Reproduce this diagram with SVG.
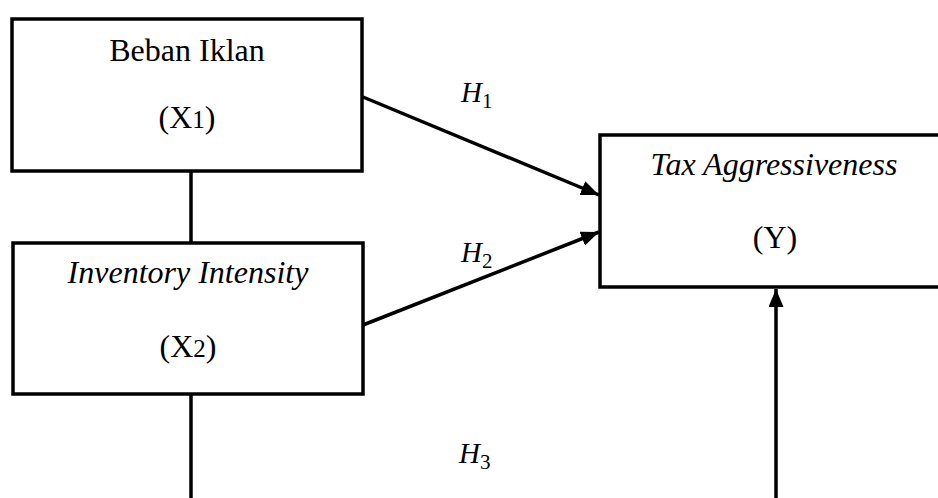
<svg xmlns="http://www.w3.org/2000/svg" width="938" height="498" viewBox="0 0 938 498">
<style>
.box{fill:#fff;stroke:#000;stroke-width:3.5;stroke-linejoin:miter}
.ln{stroke:#000;stroke-width:3.5;fill:none}
.t{font-family:"Liberation Serif","Times New Roman",serif;font-size:32px;fill:#000;text-anchor:middle}
.i{font-style:italic}
.h{font-family:"Liberation Serif","Times New Roman",serif;font-size:29px;fill:#000}
</style>
<defs>
<marker id="ah" markerWidth="18" markerHeight="15" refX="18" refY="7.5" orient="auto" markerUnits="userSpaceOnUse">
<path d="M0,0 L18,7.5 L0,15 Z" fill="#000"/>
</marker>
</defs>
<g id="connectors">
<line class="ln" x1="191" y1="171" x2="191" y2="243"/>
<line class="ln" x1="191" y1="394" x2="191" y2="498"/>
<line class="ln" x1="363" y1="97" x2="599" y2="195" marker-end="url(#ah)"/>
<line class="ln" x1="363" y1="325" x2="599" y2="232" marker-end="url(#ah)"/>
<line class="ln" x1="776" y1="498" x2="776" y2="289" marker-end="url(#ah)"/>
<text class="h" x="461" y="102"><tspan font-style="italic">H</tspan><tspan font-size="21" dy="6">1</tspan></text>
<text class="h" x="461" y="262"><tspan font-style="italic">H</tspan><tspan font-size="21" dy="6">2</tspan></text>
<text class="h" x="459" y="463"><tspan font-style="italic">H</tspan><tspan font-size="21" dy="6">3</tspan></text>
</g>
<g id="x1">
<rect class="box" x="12" y="19" width="350" height="152"/>
<text class="t" x="187" y="61">Beban Iklan</text>
<text class="t" x="187" y="128">(X<tspan font-size="25">1</tspan>)</text>
</g>
<g id="x2">
<rect class="box" x="13" y="243" width="350" height="151"/>
<text class="t i" x="188" y="283">Inventory Intensity</text>
<text class="t" x="188" y="357">(X<tspan font-size="25">2</tspan>)</text>
</g>
<g id="y">
<rect class="box" x="600" y="135" width="360" height="152"/>
<text class="t i" x="774" y="175">Tax Aggressiveness</text>
<text class="t" x="775" y="248">(Y)</text>
</g>
</svg>
